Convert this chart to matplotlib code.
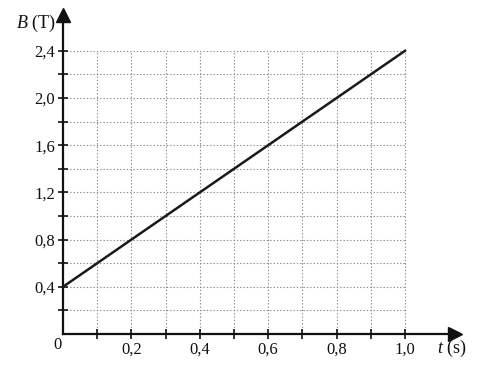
import matplotlib
matplotlib.use("Agg")
import matplotlib.pyplot as plt
import numpy as np

t_values = [0.0, 1.0]
B_values = [0.4, 2.4]
x_tick_labels = ["0,2", "0,4", "0,6", "0,8", "1,0"]
x_tick_pos = [0.2, 0.4, 0.6, 0.8, 1.0]
y_tick_labels = ["0,4", "0,8", "1,2", "1,6", "2,0", "2,4"]
y_tick_pos = [0.4, 0.8, 1.2, 1.6, 2.0, 2.4]

plt.rcParams['font.family'] = ['Liberation Serif', 'DejaVu Serif']
plt.rcParams['mathtext.fontset'] = 'custom'
plt.rcParams['mathtext.it'] = 'Liberation Serif:italic'
plt.rcParams['mathtext.rm'] = 'Liberation Serif'

W, H = 503, 372
fig = plt.figure(figsize=(W / 100, H / 100), dpi=100)
x0, y0 = 63, 334
px_x = 342.0   # pixels per unit t
px_y = 118.0   # pixels per unit B
xmax, ymax = 1.145, 2.70
ax = fig.add_axes([x0 / W, (H - y0) / H, xmax * px_x / W, ymax * px_y / H])
ax.set_xlim(0, xmax)
ax.set_ylim(0, ymax)

# grid
gx = np.arange(1, 11) * 0.1
gy = np.arange(1, 13) * 0.2
ax.vlines(gx, 0, 2.4, colors="#8a8a8a", linestyles=(0, (1.2, 1.8)), linewidth=0.8, zorder=1)
ax.hlines(gy, 0, 1.0, colors="#8a8a8a", linestyles=(0, (1.2, 1.8)), linewidth=0.8, zorder=1)

ax.plot(t_values, B_values, color="#1a1a1a", linewidth=1.8, zorder=3)

for s in ["top", "right"]:
    ax.spines[s].set_visible(False)
for s in ["left", "bottom"]:
    ax.spines[s].set_linewidth(1.6)
    ax.spines[s].set_color("#111111")

ax.plot(1, 0, marker=">", color="#111111", markersize=10, transform=ax.get_yaxis_transform(), clip_on=False)
ax.plot(0, 1, marker="^", color="#111111", markersize=10, transform=ax.get_xaxis_transform(), clip_on=False)

ax.set_xticks(x_tick_pos)
ax.set_xticklabels(x_tick_labels)
ax.set_xticks(gx, minor=True)
ax.set_yticks(y_tick_pos)
ax.set_yticklabels(y_tick_labels)
ax.set_yticks(gy, minor=True)
ax.tick_params(which="both", direction="inout", length=7, width=1.2, color="#111111",
               labelsize=12, labelcolor="#111111")
ax.tick_params(axis="x", pad=2)
ax.tick_params(axis="y", pad=2)

ax.text(-0.015, -0.09, "0", ha="center", va="center", fontsize=12, color="#111111")
ax.text(-0.02, 2.63, r"$B$ (T)", ha="right", va="center", fontsize=13, color="#111111")
ax.text(1.094, -0.12, r"$t$ (s)", ha="left", va="center", fontsize=13, color="#111111")

fig.savefig("out.png", dpi=100)
